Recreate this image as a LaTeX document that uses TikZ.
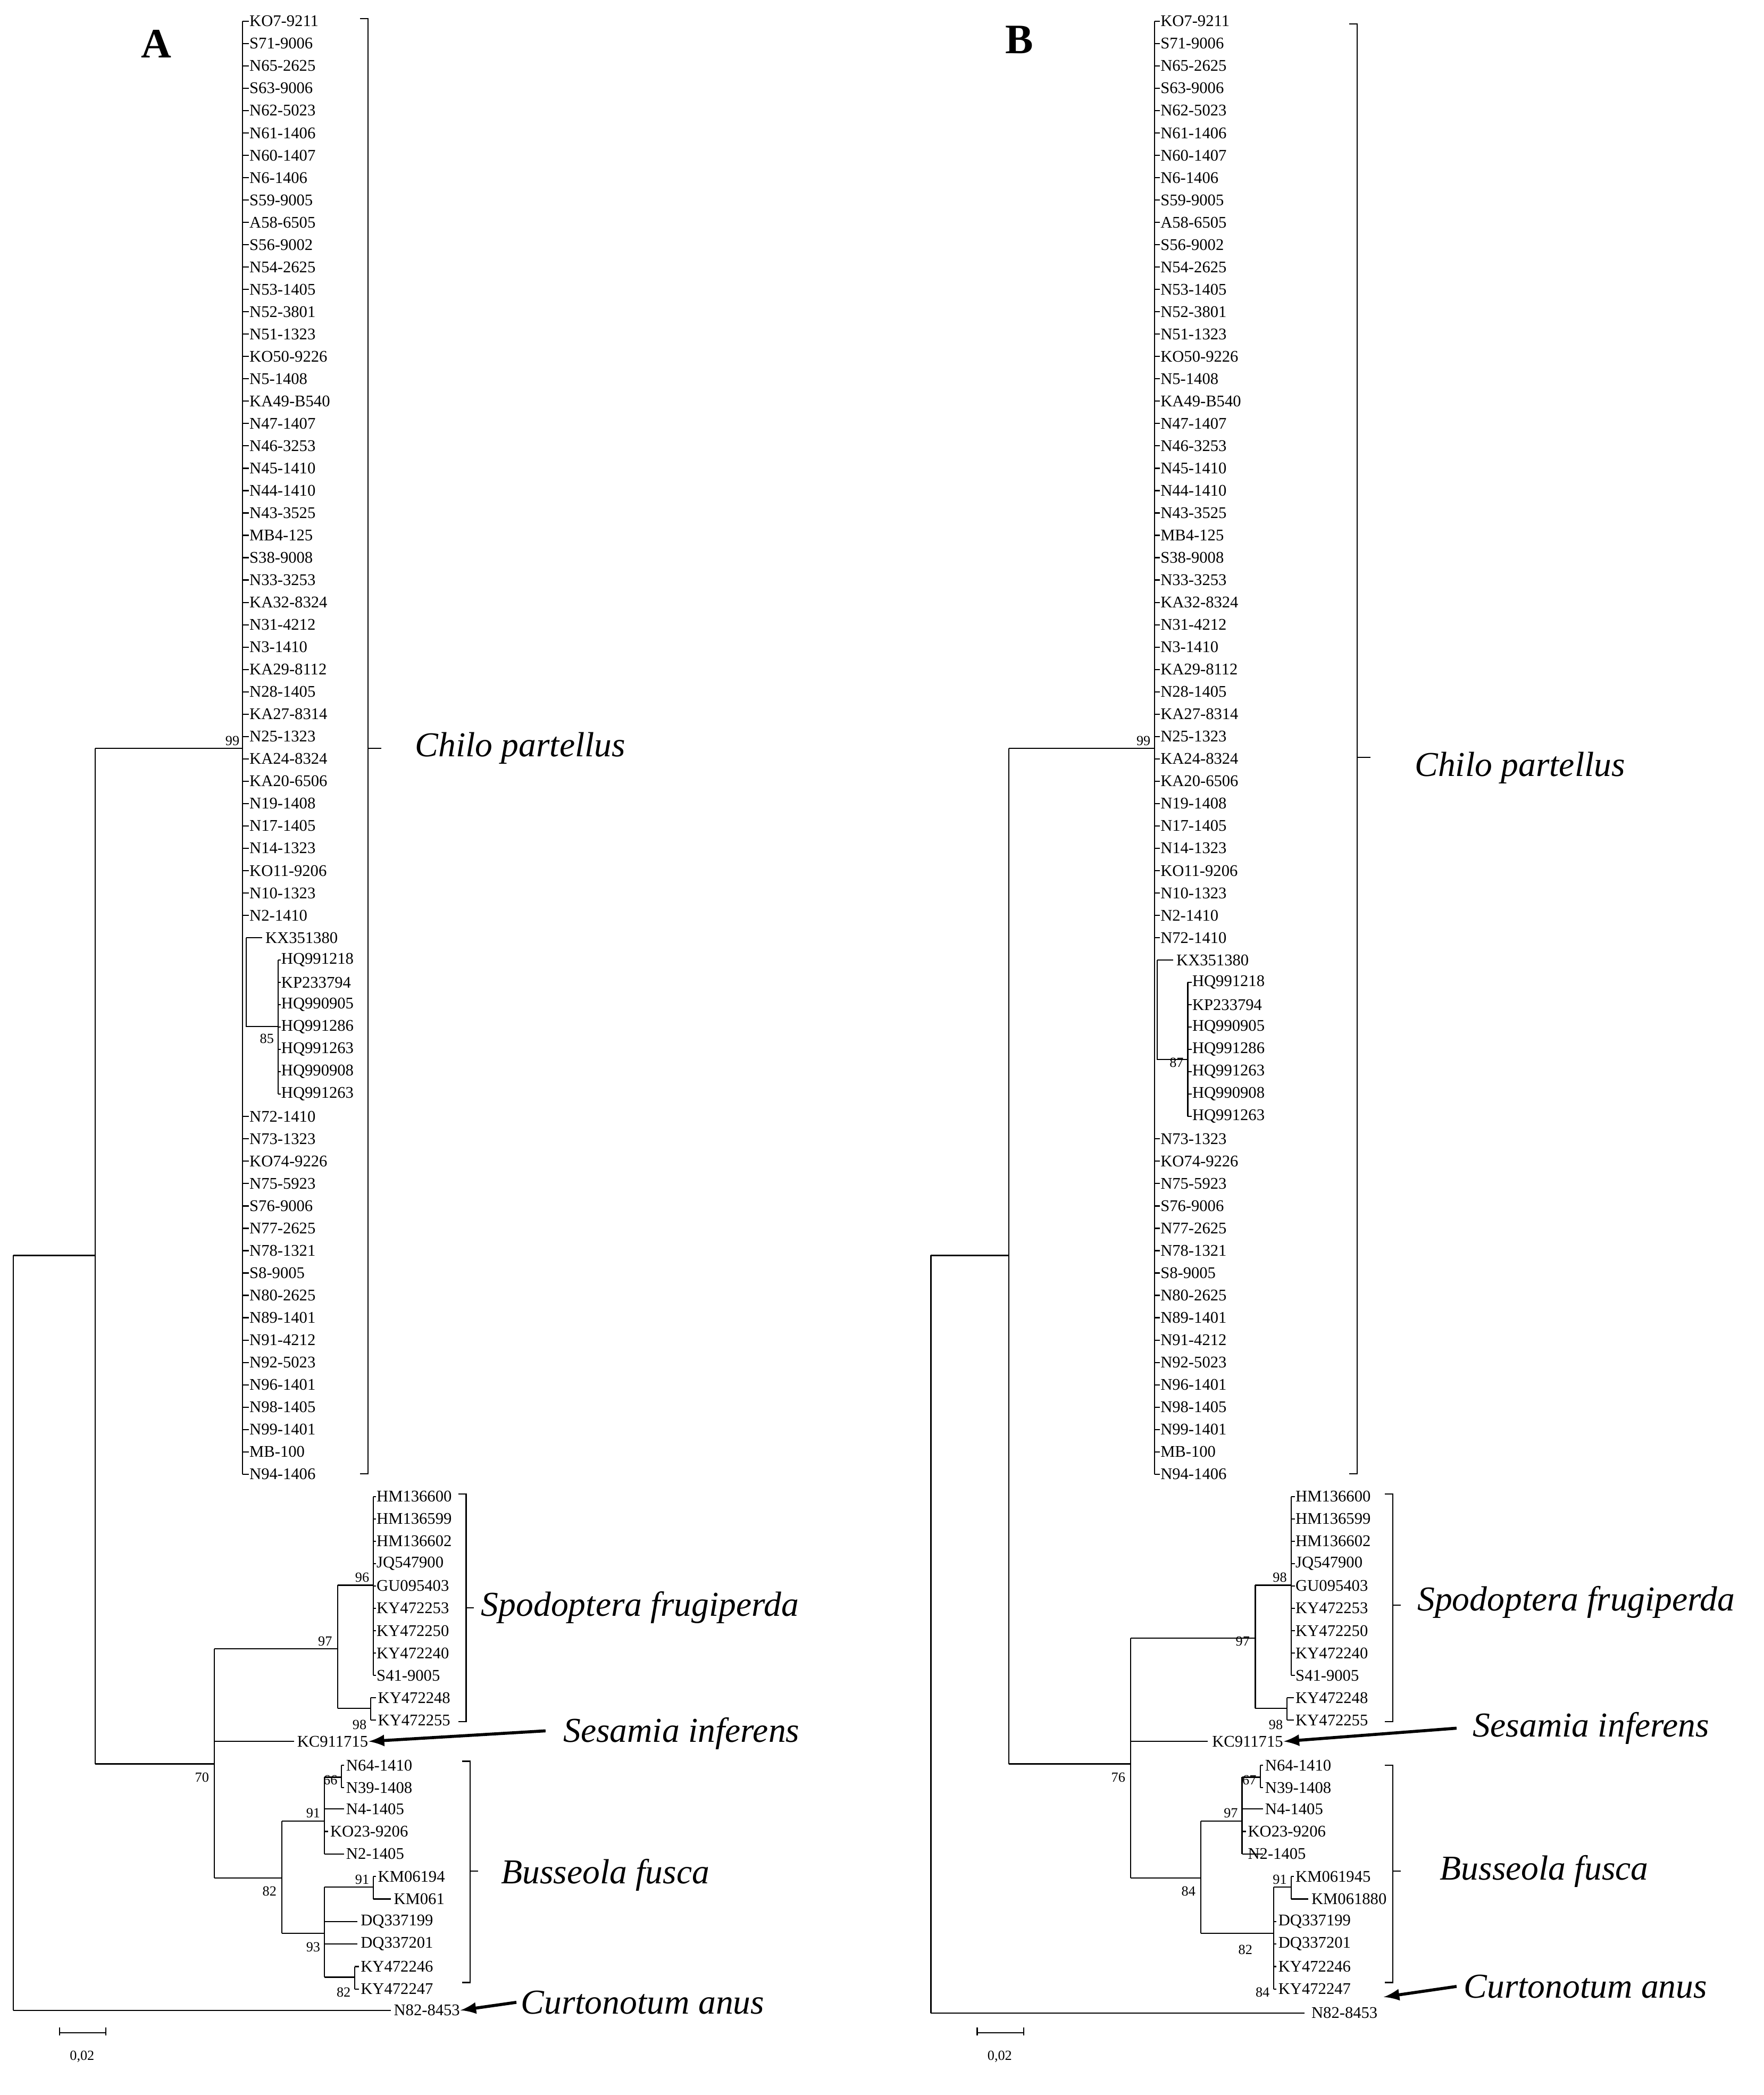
\documentclass[tikz,border=0pt]{standalone}
\usepackage{fontspec}
\setmainfont{Liberation Serif}
\begin{document}
\begin{tikzpicture}[x=0.02cm,y=-0.02cm,line width=0.5pt,
 leaf/.style={anchor=west,inner sep=0pt,font=\fontsize{7}{8}\selectfont},
 bs/.style={anchor=south east,inner sep=1pt,font=\fontsize{6}{7}\selectfont},
 sp/.style={anchor=west,inner sep=0pt,font=\fontsize{15}{17}\selectfont\itshape},
 arr/.style={-latex,line width=1.3pt}]
\useasboundingbox (0,0) rectangle (1332,1582);
\def\ry#1{16+(#1-1)*16.88}
\def\chiloA{KO7-9211,S71-9006,N65-2625,S63-9006,N62-5023,N61-1406,N60-1407,N6-1406,S59-9005,A58-6505,S56-9002,N54-2625,N53-1405,N52-3801,N51-1323,KO50-9226,N5-1408,KA49-B540,N47-1407,N46-3253,N45-1410,N44-1410,N43-3525,MB4-125,S38-9008,N33-3253,KA32-8324,N31-4212,N3-1410,KA29-8112,N28-1405,KA27-8314,N25-1323,KA24-8324,KA20-6506,N19-1408,N17-1405,N14-1323,KO11-9206,N10-1323,N2-1410}
\def\hq{HQ991218,KP233794,HQ990905,HQ991286,HQ991263,HQ990908,HQ991263}
% ================= TREE A =================
\node[font=\fontsize{18}{20}\selectfont\bfseries] (tA) at (118,33) {A};
\foreach \t [count=\i] in \chiloA {\node[leaf] (a\i) at (188,{\ry{\i}}) {\t}; \draw (183,{\ry{\i}}) -- (188,{\ry{\i}});}
\foreach \t [count=\i from 50] in {N72-1410,N73-1323,KO74-9226,N75-5923,S76-9006,N77-2625,N78-1321,S8-9005,N80-2625,N89-1401,N91-4212,N92-5023,N96-1401,N98-1405,N99-1401,MB-100,N94-1406}
 {\node[leaf] (a\i) at (188,{\ry{\i}}) {\t}; \draw (183,{\ry{\i}}) -- (188,{\ry{\i}});}
\draw (183,{\ry{1}}) -- (183,{\ry{66}});
\node[leaf] (a42) at (200,{\ry{42}}) {KX351380};
\draw (186,{\ry{42}}) -- (198,{\ry{42}}) (186,{\ry{42}}) -- (186,775) -- (210,775);
\node[bs] at (209,790) {85};
\foreach \t [count=\i from 43] in \hq {\node[leaf] (a\i) at (212,{\ry{\i}}) {\t}; \draw (210,{\ry{\i}}) -- (212,{\ry{\i}});}
\draw (210,{\ry{43}}) -- (210,{\ry{49}});
\draw (272,14) -- (278,14) -- (278,1113) -- (272,1113) (278,565) -- (288,565);
\node[sp] at (313,565) {Chilo partellus};
\draw (10,948) -- (10,1518) (10,948) -- (72,948) (10,1518) -- (295,1518);
\node[leaf] (aN82) at (297,1518) {N82-8453};
\draw (72,565) -- (72,1332) (72,565) -- (183,565) (72,1332) -- (162,1332);
\node[bs] at (183,565) {99}; \node[bs] at (160,1348) {70};
\draw (162,1245) -- (162,1418) (162,1245) -- (255,1245) (162,1315) -- (222,1315) (162,1418) -- (213,1418);
\node[leaf] (aKC) at (224,1315) {KC911715};
\node[bs] at (253,1245) {97};
\draw (255,1197) -- (255,1290) (255,1197) -- (282,1197) (255,1290) -- (280,1290);
\node[bs] at (281,1197) {96}; \node[bs] at (279,1308) {98};
\foreach \t [count=\i from 0] in {HM136600,HM136599,HM136602,JQ547900,GU095403,KY472253,KY472250,KY472240,S41-9005}
 {\node[leaf] (as\i) at (284,{1130+\i*16.9}) {\t}; \draw (282,{1130+\i*16.9}) -- (284,{1130+\i*16.9});}
\draw (282,1130) -- (282,1265) (280,1282) -- (280,1299) (280,1282) -- (284,1282) (280,1299) -- (284,1299);
\node[leaf] (asb) at (285,1282) {KY472248}; \node[leaf] (asc) at (285,1299) {KY472255};
\draw (346,1128) -- (352,1128) -- (352,1300) -- (346,1300) (352,1214) -- (358,1214);
\node[sp] at (363,1214) {Spodoptera frugiperda};
\node[sp] (aSes) at (425,1309) {Sesamia inferens};
\draw[arr] (412,1307) -- (aKC.east);
\node[bs] at (211,1434) {82};
\draw (213,1375) -- (213,1460) (213,1375) -- (245,1375) (213,1460) -- (245,1460);
\node[bs] at (244,1375) {91};
\draw (245,1342) -- (245,1400) (245,1342) -- (258,1342) (258,1333) -- (258,1350) (258,1333) -- (260,1333) (258,1350) -- (260,1350)
 (245,1366) -- (260,1366) (245,1383) -- (248,1383) (245,1400) -- (260,1400);
\node[bs] at (257,1350) {66};
\node[leaf] at (261,1333) {N64-1410}; \node[leaf] at (261,1350) {N39-1408}; \node[leaf] at (261,1366) {N4-1405};
\node[leaf] at (249,1383) {KO23-9206}; \node[leaf] at (261,1400) {N2-1405};
\draw (245,1425) -- (245,1493) (245,1425) -- (282,1425) (282,1417) -- (282,1434) (282,1417) -- (284,1417) (282,1434) -- (295,1434)
 (245,1451) -- (270,1451) (245,1468) -- (270,1468) (245,1493) -- (268,1493) (268,1485) -- (268,1502) (268,1485) -- (271,1485) (268,1502) -- (271,1502);
\node[bs] at (281,1425) {91}; \node[bs] at (244,1476) {93}; \node[bs] at (267,1510) {82};
\node[leaf] at (285,1417) {KM06194}; \node[leaf] at (297,1434) {KM061};
\node[leaf] at (272,1451) {DQ337199}; \node[leaf] at (272,1468) {DQ337201};
\node[leaf] at (272,1485) {KY472246}; \node[leaf] at (272,1502) {KY472247};
\draw (349,1330) -- (355,1330) -- (355,1497) -- (349,1497) (355,1413) -- (361,1413);
\node[sp] at (378,1416) {Busseola fusca};
\node[sp] at (393,1512) {Curtonotum anus};
\draw[arr] (390,1512) -- (aN82.east);
\draw (45,1531) -- (45,1537) (45,1535) -- (80,1535) (80,1531) -- (80,1537);
\node[font=\fontsize{6}{7}\selectfont] at (62,1553) {0,02};
% ================= TREE B =================
\node[font=\fontsize{18}{20}\selectfont\bfseries] (tB) at (770,30) {B};
\foreach \t [count=\i] in \chiloA {\node[leaf] (b\i) at (876,{\ry{\i}}) {\t}; \draw (872,{\ry{\i}}) -- (876,{\ry{\i}});}
\foreach \t [count=\i from 51] in {N73-1323,KO74-9226,N75-5923,S76-9006,N77-2625,N78-1321,S8-9005,N80-2625,N89-1401,N91-4212,N92-5023,N96-1401,N98-1405,N99-1401,MB-100,N94-1406}
 {\node[leaf] (b\i) at (876,{\ry{\i}}) {\t}; \draw (872,{\ry{\i}}) -- (876,{\ry{\i}});}
\node[leaf] (b42) at (876,{\ry{42}}) {N72-1410}; \draw (872,{\ry{42}}) -- (876,{\ry{42}});
\draw (872,{\ry{1}}) -- (872,{\ry{66}});
\node[leaf] (b43) at (888,{\ry{43}}) {KX351380};
\draw (874,{\ry{43}}) -- (886,{\ry{43}}) (874,{\ry{43}}) -- (874,800) -- (897,800);
\node[bs] at (896,808) {87};
\foreach \t [count=\i from 44] in \hq {\node[leaf] (b\i) at (900,{\ry{\i}}) {\t}; \draw (897,{\ry{\i}}) -- (900,{\ry{\i}});}
\draw (897,{\ry{44}}) -- (897,{\ry{50}});
\draw (1019,18) -- (1025,18) -- (1025,1113) -- (1019,1113) (1025,572) -- (1035,572);
\node[sp] at (1068,580) {Chilo partellus};
\draw (703,948) -- (703,1520) (703,948) -- (762,948) (703,1520) -- (985,1520);
\node[leaf] (bN82) at (990,1520) {N82-8453};
\draw (762,565) -- (762,1332) (762,565) -- (872,565) (762,1332) -- (854,1332);
\node[bs] at (871,565) {99}; \node[bs] at (852,1348) {76};
\draw (854,1237) -- (854,1418) (854,1237) -- (948,1237) (854,1315) -- (912,1315) (854,1418) -- (907,1418);
\node[leaf] (bKC) at (915,1315) {KC911715};
\node[bs] at (946,1245) {97};
\draw (948,1197) -- (948,1290) (948,1197) -- (975,1197) (948,1290) -- (972,1290);
\node[bs] at (974,1197) {98}; \node[bs] at (971,1308) {98};
\foreach \t [count=\i from 0] in {HM136600,HM136599,HM136602,JQ547900,GU095403,KY472253,KY472250,KY472240,S41-9005}
 {\node[leaf] (bs\i) at (978,{1130+\i*16.9}) {\t}; \draw (975,{1130+\i*16.9}) -- (978,{1130+\i*16.9});}
\draw (975,1130) -- (975,1265) (972,1282) -- (972,1299) (972,1282) -- (977,1282) (972,1299) -- (977,1299);
\node[leaf] (bsb) at (978,1282) {KY472248}; \node[leaf] (bsc) at (978,1299) {KY472255};
\draw (1046,1128) -- (1052,1128) -- (1052,1300) -- (1046,1300) (1052,1212) -- (1058,1212);
\node[sp] at (1070,1210) {Spodoptera frugiperda};
\node[sp] (bSes) at (1112,1305) {Sesamia inferens};
\draw[arr] (1100,1305) -- (bKC.east);
\node[bs] at (905,1434) {84};
\draw (907,1375) -- (907,1460) (907,1375) -- (938,1375) (907,1460) -- (962,1460);
\node[bs] at (937,1375) {97};
\draw (938,1342) -- (938,1400) (938,1342) -- (952,1342) (952,1333) -- (952,1350) (952,1333) -- (954,1333) (952,1350) -- (954,1350)
 (938,1366) -- (954,1366) (938,1383) -- (941,1383) (938,1400) -- (954,1400);
\node[bs] at (951,1350) {67};
\node[leaf] at (955,1333) {N64-1410}; \node[leaf] at (955,1350) {N39-1408}; \node[leaf] at (955,1366) {N4-1405};
\node[leaf] at (942,1383) {KO23-9206}; \node[leaf] at (942,1400) {N2-1405};
\draw (962,1425) -- (962,1502) (962,1425) -- (975,1425) (975,1417) -- (975,1434) (975,1417) -- (977,1417) (975,1434) -- (988,1434)
 (962,1451) -- (964,1451) (962,1468) -- (964,1468) (962,1485) -- (964,1485) (962,1502) -- (964,1502);
\node[bs] at (974,1425) {91}; \node[bs] at (948,1478) {82}; \node[bs] at (961,1510) {84};
\node[leaf] at (978,1417) {KM061945}; \node[leaf] at (990,1434) {KM061880};
\node[leaf] at (965,1451) {DQ337199}; \node[leaf] at (965,1468) {DQ337201};
\node[leaf] at (965,1485) {KY472246}; \node[leaf] at (965,1502) {KY472247};
\draw (1046,1333) -- (1052,1333) -- (1052,1497) -- (1046,1497) (1052,1413) -- (1058,1413);
\node[sp] at (1087,1413) {Busseola fusca};
\node[sp] at (1105,1500) {Curtonotum anus};
\draw[arr] (1100,1500) -- (1045,1508);
\draw (738,1531) -- (738,1537) (738,1535) -- (773,1535) (773,1531) -- (773,1537);
\node[font=\fontsize{6}{7}\selectfont] at (755,1553) {0,02};
\end{tikzpicture}
\end{document}
